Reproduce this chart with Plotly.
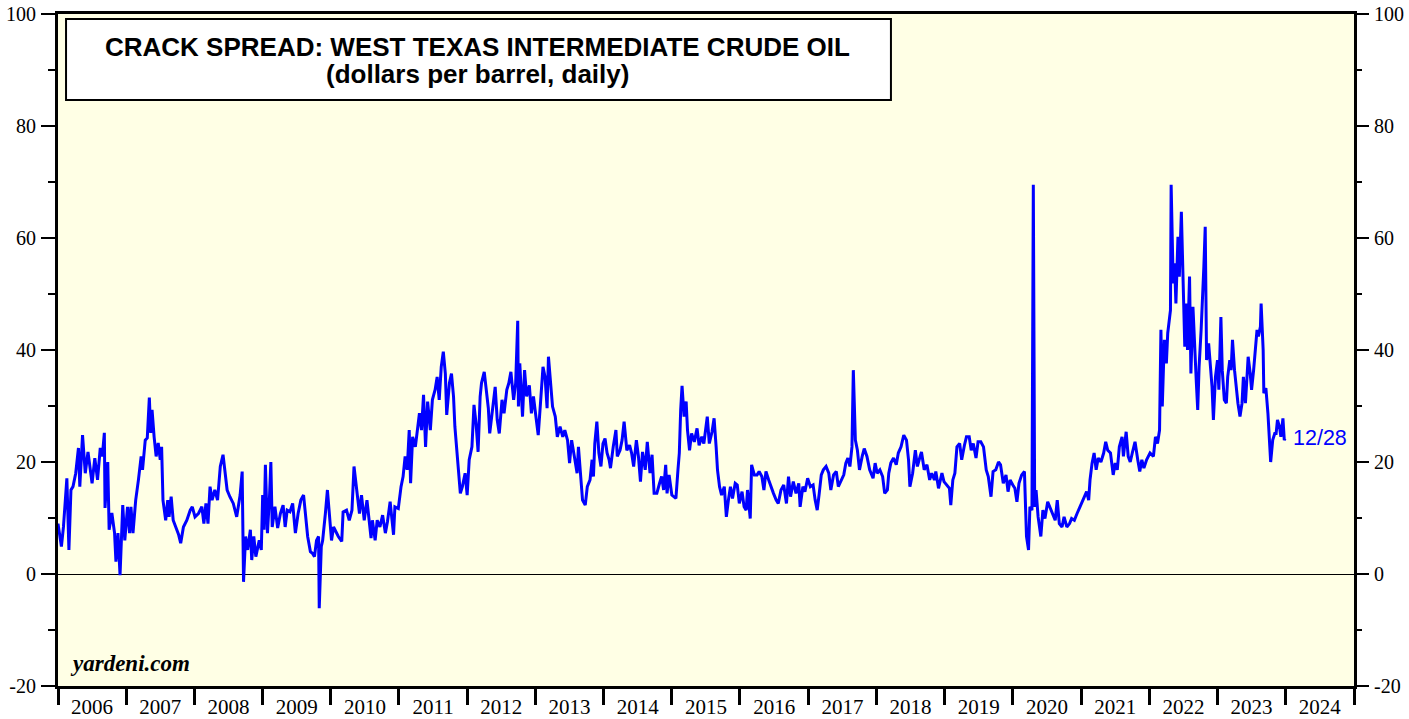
import plotly.graph_objects as go
import pandas as pd

# Dates as decimal years, and crack spread values ($/bbl)
dec_year = [
    2006.00, 2006.05, 2006.08, 2006.10, 2006.13, 2006.16, 2006.19, 2006.22, 2006.26, 2006.30, 2006.32, 2006.36,
    2006.40, 2006.44, 2006.47, 2006.50, 2006.54, 2006.58, 2006.62, 2006.65, 2006.68, 2006.69, 2006.73, 2006.75,
    2006.79, 2006.83, 2006.85, 2006.88, 2006.91, 2006.95, 2006.98,
    2007.02, 2007.05, 2007.07, 2007.10, 2007.14, 2007.18, 2007.22, 2007.24, 2007.28, 2007.31, 2007.34, 2007.36,
    2007.38, 2007.41, 2007.44, 2007.47, 2007.50, 2007.52, 2007.54, 2007.58, 2007.61, 2007.63, 2007.66, 2007.69,
    2007.74, 2007.77, 2007.80, 2007.84, 2007.89, 2007.94, 2007.97,
    2008.01, 2008.06, 2008.11, 2008.14, 2008.17, 2008.20, 2008.23, 2008.26, 2008.30, 2008.34, 2008.38, 2008.42,
    2008.45, 2008.48, 2008.52, 2008.57, 2008.62, 2008.67, 2008.70, 2008.72, 2008.75, 2008.78, 2008.82, 2008.84,
    2008.87, 2008.90, 2008.95, 2008.98,
    2009.00, 2009.02, 2009.04, 2009.07, 2009.10, 2009.12, 2009.14, 2009.18, 2009.22, 2009.26, 2009.30, 2009.33,
    2009.36, 2009.40, 2009.44, 2009.48, 2009.52, 2009.56, 2009.60, 2009.63, 2009.66, 2009.70, 2009.73, 2009.76,
    2009.79, 2009.82, 2009.83, 2009.86, 2009.88, 2009.92, 2009.95, 2009.97,
    2010.01, 2010.04, 2010.06, 2010.11, 2010.16, 2010.18, 2010.23, 2010.27, 2010.31, 2010.34, 2010.38, 2010.42,
    2010.45, 2010.49, 2010.53, 2010.57, 2010.59, 2010.61, 2010.65, 2010.68, 2010.72, 2010.76, 2010.80, 2010.83,
    2010.87, 2010.92, 2010.94, 2010.99,
    2011.03, 2011.06, 2011.09, 2011.12, 2011.15, 2011.17, 2011.20, 2011.24, 2011.27, 2011.30, 2011.33, 2011.36,
    2011.39, 2011.42, 2011.46, 2011.49, 2011.53, 2011.56, 2011.59, 2011.62, 2011.65, 2011.68, 2011.70, 2011.74,
    2011.77, 2011.80, 2011.82, 2011.86, 2011.90, 2011.93, 2011.97,
    2012.00, 2012.03, 2012.07, 2012.10, 2012.13, 2012.16, 2012.19, 2012.21, 2012.25, 2012.28, 2012.31, 2012.33,
    2012.37, 2012.41, 2012.44, 2012.47, 2012.51, 2012.54, 2012.58, 2012.61, 2012.64, 2012.68, 2012.71, 2012.74,
    2012.75, 2012.77, 2012.81, 2012.84, 2012.87, 2012.91, 2012.94, 2012.97,
    2013.00, 2013.04, 2013.08, 2013.11, 2013.14, 2013.17, 2013.19, 2013.22, 2013.25, 2013.29, 2013.32, 2013.36,
    2013.40, 2013.43, 2013.47, 2013.50, 2013.53, 2013.57, 2013.61, 2013.63, 2013.66, 2013.69, 2013.73, 2013.76,
    2013.80, 2013.83, 2013.85, 2013.87, 2013.90, 2013.93, 2013.96, 2013.99,
    2014.02, 2014.05, 2014.08, 2014.10, 2014.14, 2014.18, 2014.20, 2014.24, 2014.27, 2014.30, 2014.34, 2014.38,
    2014.41, 2014.44, 2014.48, 2014.51, 2014.54, 2014.57, 2014.61, 2014.64, 2014.68, 2014.71, 2014.74, 2014.78,
    2014.82, 2014.85, 2014.88, 2014.91, 2014.93, 2014.96,
    2015.00, 2015.03, 2015.06, 2015.09, 2015.11, 2015.13, 2015.15, 2015.18, 2015.21, 2015.23, 2015.26, 2015.29,
    2015.33, 2015.37, 2015.40, 2015.44, 2015.47, 2015.52, 2015.55, 2015.59, 2015.62, 2015.65, 2015.67, 2015.70,
    2015.73, 2015.77, 2015.80, 2015.83, 2015.86, 2015.89, 2015.93, 2015.96, 2015.99,
    2016.03, 2016.06, 2016.09, 2016.11, 2016.15, 2016.17, 2016.21, 2016.25, 2016.28, 2016.32, 2016.35, 2016.38,
    2016.42, 2016.45, 2016.49, 2016.53, 2016.56, 2016.60, 2016.64, 2016.68, 2016.71, 2016.74, 2016.78, 2016.82,
    2016.86, 2016.88, 2016.92, 2016.95, 2016.99,
    2017.03, 2017.07, 2017.10, 2017.13, 2017.16, 2017.19, 2017.22, 2017.26, 2017.30, 2017.33, 2017.37, 2017.41,
    2017.44, 2017.48, 2017.52, 2017.55, 2017.58, 2017.61, 2017.64, 2017.66, 2017.69, 2017.72, 2017.75, 2017.79,
    2017.82, 2017.86, 2017.90, 2017.95, 2017.98,
    2018.01, 2018.05, 2018.09, 2018.12, 2018.16, 2018.18, 2018.21, 2018.25, 2018.29, 2018.32, 2018.36, 2018.40,
    2018.44, 2018.47, 2018.49, 2018.53, 2018.57, 2018.60, 2018.64, 2018.66, 2018.70, 2018.74, 2018.78, 2018.81,
    2018.85, 2018.87, 2018.91, 2018.96, 2018.99,
    2019.03, 2019.07, 2019.09, 2019.12, 2019.15, 2019.18, 2019.22, 2019.25, 2019.29, 2019.32, 2019.36, 2019.39,
    2019.42, 2019.46, 2019.49, 2019.53, 2019.57, 2019.61, 2019.64, 2019.68, 2019.71, 2019.75, 2019.79, 2019.82,
    2019.86, 2019.90, 2019.93, 2019.96,
    2020.00, 2020.03, 2020.06, 2020.09, 2020.13, 2020.17, 2020.18, 2020.20, 2020.23, 2020.25, 2020.28, 2020.30,
    2020.32, 2020.34, 2020.37, 2020.41, 2020.44, 2020.47, 2020.51, 2020.55, 2020.59, 2020.62, 2020.65, 2020.68,
    2020.72, 2020.75, 2020.79, 2020.83, 2020.86, 2020.90, 2020.94, 2020.98,
    2021.01, 2021.04, 2021.08, 2021.11, 2021.13, 2021.16, 2021.19, 2021.22, 2021.25, 2021.29, 2021.33, 2021.36,
    2021.39, 2021.43, 2021.47, 2021.50, 2021.53, 2021.56, 2021.60, 2021.62, 2021.66, 2021.69, 2021.72, 2021.75,
    2021.79, 2021.83, 2021.86, 2021.89, 2021.92, 2021.96,
    2022.01, 2022.06, 2022.09, 2022.12, 2022.15, 2022.17, 2022.19, 2022.22, 2022.25, 2022.27, 2022.29, 2022.31,
    2022.32, 2022.35, 2022.37, 2022.39, 2022.42, 2022.44, 2022.47, 2022.49, 2022.52, 2022.54, 2022.56, 2022.59,
    2022.61, 2022.64, 2022.66, 2022.69, 2022.71, 2022.73, 2022.76, 2022.78, 2022.80, 2022.82, 2022.84, 2022.87,
    2022.89, 2022.92, 2022.94, 2022.97,
    2023.00, 2023.02, 2023.05, 2023.07, 2023.10, 2023.13, 2023.15, 2023.18, 2023.20, 2023.22, 2023.25, 2023.27,
    2023.30, 2023.33, 2023.36, 2023.38, 2023.41, 2023.43, 2023.45, 2023.48, 2023.50, 2023.53, 2023.55, 2023.58,
    2023.60, 2023.63, 2023.64, 2023.67, 2023.68, 2023.71, 2023.74, 2023.76, 2023.78, 2023.81, 2023.84, 2023.86,
    2023.88, 2023.91, 2023.93, 2023.96, 2023.98, 2023.99,
]

spread = [
    9.0, 4.9, 8.4, 12.7, 17.1, 4.3, 15.0, 15.6, 18.0, 22.5, 15.6, 24.8,
    18.0, 21.8, 18.6, 16.2, 20.7, 16.8, 22.5, 21.0, 25.2, 11.8, 20.0, 7.9,
    10.9, 7.3, 2.2, 7.3, -0.2, 12.3, 6.0,
    12.0, 7.3, 12.0, 7.3, 13.2, 16.8, 21.0, 18.6, 23.9, 24.3, 31.5, 25.2,
    29.3, 24.5, 21.0, 23.4, 20.4, 22.7, 13.2, 9.6, 13.2, 10.2, 13.8, 9.6,
    7.9, 7.0, 5.5, 8.4, 9.6, 11.4, 12.0,
    10.2, 10.8, 12.0, 9.0, 12.6, 9.0, 15.6, 13.2, 15.0, 13.2, 19.2, 21.3,
    18.0, 15.0, 13.8, 12.6, 10.2, 14.1, 18.3, -1.4, 6.7, 4.3, 7.9, 2.5,
    6.7, 3.1, 6.0, 4.3,
    14.1, 7.9, 19.5, 7.3, 13.8, 20.0, 8.4, 12.0, 8.2, 10.8, 12.3, 8.4,
    11.4, 11.1, 12.6, 7.3, 10.8, 13.2, 14.1, 10.2, 6.7, 4.0, 3.7, 3.1,
    6.0, 6.7, -6.1, 4.9, 6.0, 10.8, 15.0, 12.0,
    6.0, 8.4, 7.9, 6.7, 5.8, 11.1, 11.4, 9.6, 11.4, 19.2, 15.0, 10.8,
    14.1, 9.6, 13.2, 9.0, 6.4, 9.6, 6.0, 9.6, 8.4, 10.5, 7.3, 9.3,
    12.9, 7.0, 12.0, 11.7,
    15.6, 17.4, 21.0, 18.6, 25.7, 16.2, 24.5, 22.7, 26.3, 28.7, 25.7, 32.0,
    22.7, 30.8, 25.7, 31.1, 32.9, 35.2, 31.1, 37.0, 39.7, 35.8, 28.4, 34.1,
    35.8, 31.7, 26.3, 19.8, 14.4, 15.6, 18.0,
    14.1, 20.4, 22.7, 30.2, 26.9, 21.8, 31.7, 34.1, 36.1, 32.3, 29.6, 25.1,
    29.9, 33.4, 27.5, 25.1, 31.1, 28.7, 32.9, 34.1, 36.1, 31.1, 34.1, 45.2,
    29.9, 37.6, 28.1, 36.4, 31.7, 33.7, 28.7, 31.7,
    28.7, 24.8, 31.7, 37.0, 35.2, 29.6, 38.8, 33.4, 29.9, 28.1, 24.5, 26.3,
    24.5, 25.7, 23.9, 19.8, 23.9, 21.0, 18.0, 22.7, 18.0, 13.2, 12.3, 15.6,
    16.8, 20.4, 17.4, 23.3, 27.2, 21.6, 19.2, 23.3,
    24.2, 21.6, 20.4, 18.9, 22.7, 25.7, 21.0, 22.1, 23.9, 27.2, 22.1, 23.0,
    21.6, 19.2, 23.9, 21.0, 16.5, 21.8, 18.6, 23.6, 18.0, 21.3, 14.4, 14.4,
    16.2, 17.4, 15.0, 19.5, 14.4, 17.7,
    14.1, 13.8, 13.5, 18.6, 21.6, 29.3, 33.6, 28.1, 30.8, 25.7, 22.1, 25.1,
    23.6, 26.0, 23.0, 24.5, 23.3, 28.1, 23.3, 25.4, 27.8, 22.7, 18.6, 15.6,
    14.1, 15.6, 10.2, 13.2, 15.6, 13.5, 16.2, 15.9, 12.6,
    14.7, 12.0, 11.4, 15.0, 9.9, 19.5, 17.7, 17.7, 18.3, 17.4, 15.0, 18.3,
    16.8, 15.6, 14.4, 13.2, 12.6, 15.0, 15.9, 12.6, 17.4, 13.8, 16.5, 14.4,
    16.2, 12.0, 15.6, 14.7, 17.1,
    15.6, 15.9, 13.2, 11.4, 14.4, 17.7, 18.6, 19.2, 18.0, 15.0, 17.7, 18.3,
    15.6, 16.8, 17.7, 19.8, 20.7, 19.2, 22.7, 36.4, 23.9, 22.1, 18.6, 21.0,
    22.4, 21.0, 18.6, 17.1, 19.8,
    18.0, 18.6, 17.4, 14.4, 15.0, 18.0, 19.8, 20.7, 19.5, 21.6, 22.7, 24.8,
    23.9, 20.4, 15.6, 18.0, 22.1, 19.2, 21.0, 21.8, 18.6, 19.5, 16.8, 18.0,
    16.8, 18.3, 15.3, 18.0, 16.5,
    15.9, 15.3, 12.3, 16.8, 18.0, 22.7, 23.3, 20.4, 23.0, 24.5, 24.5, 22.1,
    23.3, 20.7, 23.6, 23.6, 22.7, 18.6, 17.4, 13.8, 18.3, 18.6, 20.0, 19.5,
    16.2, 17.7, 14.7, 16.8,
    15.9, 15.3, 12.9, 16.2, 17.7, 18.3, 14.4, 6.7, 4.3, 12.0, 11.4, 69.5,
    12.0, 15.0, 10.2, 6.7, 11.4, 9.9, 12.9, 11.7, 10.2, 9.6, 13.2, 9.0,
    8.4, 10.2, 8.4, 9.0, 9.9, 9.6, 10.8, 12.0,
    12.6, 13.5, 14.7, 13.2, 16.8, 19.8, 21.6, 18.6, 20.7, 20.0, 21.6, 23.6,
    22.1, 21.6, 17.7, 19.8, 18.6, 22.7, 24.5, 21.0, 25.4, 21.0, 20.0, 21.6,
    23.6, 20.4, 18.3, 20.4, 18.9, 20.4,
    21.6, 21.0, 24.5, 23.3, 25.7, 43.6, 29.9, 41.8, 37.6, 43.0, 45.4, 47.1,
    69.5, 51.9, 55.5, 48.3, 60.2, 53.1, 64.7, 52.5, 40.6, 48.3, 40.0, 53.1,
    35.8, 47.7, 41.2, 34.1, 29.3, 37.0, 43.6, 48.3, 54.9, 62.0, 38.2, 41.2,
    37.6, 33.4, 27.5, 35.2,
    38.2, 32.9, 45.9, 36.4, 31.1, 30.5, 35.2, 38.2, 36.4, 41.8, 36.4, 33.4,
    30.5, 28.1, 30.5, 35.2, 30.5, 34.6, 38.8, 35.8, 32.9, 36.4, 38.8, 43.6,
    42.4, 44.2, 48.3, 40.0, 32.3, 33.2, 28.7, 23.3, 20.0, 23.9, 25.1, 25.1,
    27.5, 26.3, 24.5, 27.8, 23.9, 24.2,
]

y_tick_values = [-20, 0, 20, 40, 60, 80, 100]
y_tick_labels = ["-20", "0", "20", "40", "60", "80", "100"]

last_label = "12/28"
title_line1 = "CRACK SPREAD: WEST TEXAS INTERMEDIATE CRUDE OIL"
title_line2 = "(dollars per barrel, daily)"
source_text = "yardeni.com"


def dec_to_date(d):
    y = int(d)
    start = pd.Timestamp(year=y, month=1, day=1)
    end = pd.Timestamp(year=y + 1, month=1, day=1)
    return start + (end - start) * (d - y)


dates = [dec_to_date(d) for d in dec_year]

fig = go.Figure()
fig.add_trace(go.Scatter(
    x=dates, y=spread, mode="lines",
    line=dict(color="#0000FF", width=3),
    showlegend=False, hoverinfo="skip",
))
# invisible companion trace so the right-hand axis is drawn
fig.add_trace(go.Scatter(
    x=[dates[-1]], y=[spread[-1]], yaxis="y2", mode="markers",
    marker=dict(opacity=0), showlegend=False, hoverinfo="skip",
))

serif = "Liberation Serif, Times New Roman, serif"
sans = "Liberation Sans, Arial, sans-serif"

yaxis_common = dict(
    range=[-20, 100],
    tickmode="array", tickvals=y_tick_values, ticktext=y_tick_labels,
    ticks="outside", ticklen=14, tickwidth=1.5, tickcolor="black",
    ticklabelstandoff=1,
    showgrid=False, automargin=False,
    tickfont=dict(family=serif, size=20, color="black"),
    minor=dict(tickmode="linear", tick0=0, dtick=10, ticks="outside", ticklen=7,
               tickwidth=1.5, tickcolor="black", showgrid=False),
)

fig.update_layout(
    width=1409, height=719,
    margin=dict(l=58, r=55, t=14, b=33),
    paper_bgcolor="white",
    plot_bgcolor="#FFFFE5",
    xaxis=dict(
        type="date",
        range=["2006-01-01", "2025-01-01"],
        tick0="2006-01-01", dtick="M12", tickformat="%Y",
        ticklabelmode="period",
        ticks="outside", ticklen=16, tickwidth=3, tickcolor="black",
        ticklabelstandoff=-16,
        showline=True, linewidth=3, linecolor="black", mirror=True,
        showgrid=False, zeroline=False, automargin=False,
        tickfont=dict(family=serif, size=21, color="black"),
    ),
    yaxis=dict(
        **yaxis_common,
        showline=True, linewidth=3, linecolor="black", mirror=True,
        zeroline=True, zerolinecolor="black", zerolinewidth=1,
    ),
    yaxis2=dict(
        **yaxis_common,
        overlaying="y", side="right", anchor="x",
        showline=False, zeroline=False,
    ),
    shapes=[
        dict(type="rect", xref="paper", yref="paper",
             x0=0.0062, x1=0.6427, y0=0.872, y1=0.9926,
             fillcolor="white", line=dict(color="black", width=2), layer="above"),
    ],
    annotations=[
        dict(xref="paper", yref="paper", x=0.324, y=0.9509,
             xanchor="center", yanchor="middle", showarrow=False,
             text=f"<b>{title_line1}</b>",
             font=dict(family=sans, size=26, color="black")),
        dict(xref="paper", yref="paper", x=0.324, y=0.9107,
             xanchor="center", yanchor="middle", showarrow=False,
             text=f"<b>{title_line2}</b>",
             font=dict(family=sans, size=26, color="black")),
        dict(xref="paper", yref="paper", x=0.0077, y=0.012,
             xanchor="left", yanchor="bottom", showarrow=False,
             text=f"<b><i>{source_text}</i></b>",
             font=dict(family=serif, size=23, color="black")),
        dict(x=dates[-1], y=spread[-1], xref="x", yref="y",
             xanchor="left", yanchor="middle", xshift=6, showarrow=False,
             text=last_label,
             font=dict(family=sans, size=21.5, color="#0000FF")),
    ],
)

fig.write_html("out.html", config={"displayModeBar": False},
               post_script="document.body.style.margin='0';")
